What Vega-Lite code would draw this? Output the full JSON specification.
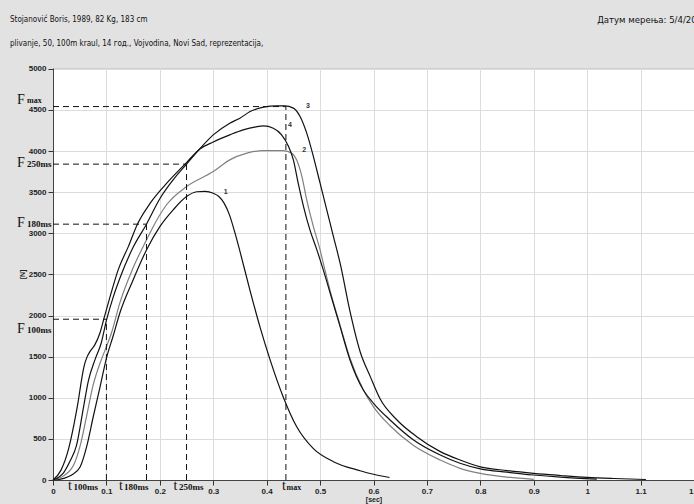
{
"$schema": "https://vega.github.io/schema/vega-lite/v6.json",
"autosize": {"type": "none"},
"width": 641,
"height": 412,
"padding": {"left": 53, "top": 68, "right": 0, "bottom": 24},
"background": "#e2e2e2",
"title": {
  "text": "Stojanović Boris, 1989, 82 Kg, 183 cm",
  "subtitle": "plivanje, 50, 100m kraul, 14 год., Vojvodina, Novi Sad, reprezentacija,",
  "anchor": "start",
  "frame": "group",
  "dx": -43,
  "offset": -33,
  "font": "Liberation Sans Narrow, DejaVu Sans Condensed, sans-serif",
  "fontSize": 8,
  "fontWeight": "normal",
  "color": "#111",
  "subtitleFont": "Liberation Sans Narrow, DejaVu Sans Condensed, sans-serif",
  "subtitleFontSize": 8,
  "subtitleColor": "#111",
  "subtitlePadding": 16
},
"config": {
  "view": {"fill": "white", "stroke": "#cfcfcf"},
  "axis": {
    "labelFont": "Liberation Sans, Arial, sans-serif",
    "labelFontSize": 8,
    "labelFontWeight": "bold",
    "labelColor": "#222",
    "tickColor": "#333",
    "domainColor": "#444",
    "tickSize": 5,
    "gridColor": "#dcdcdc",
    "gridWidth": 1,
    "titleFont": "Liberation Sans, Arial, sans-serif",
    "titleFontSize": 7,
    "titleFontWeight": "bold",
    "titleColor": "#222"
  }
},
"datasets": {
  "curves": [
    {"c":"1","t":0,"F":0},{"c":"1","t":0.02,"F":20},{"c":"1","t":0.035,"F":60},{"c":"1","t":0.051,"F":162},{"c":"1","t":0.063,"F":405},{"c":"1","t":0.075,"F":760},{"c":"1","t":0.088,"F":1130},{"c":"1","t":0.1,"F":1480},{"c":"1","t":0.113,"F":1760},{"c":"1","t":0.125,"F":2028},{"c":"1","t":0.15,"F":2433},{"c":"1","t":0.175,"F":2798},{"c":"1","t":0.2,"F":3081},{"c":"1","t":0.225,"F":3285},{"c":"1","t":0.25,"F":3446},{"c":"1","t":0.269,"F":3505},{"c":"1","t":0.285,"F":3510},{"c":"1","t":0.3,"F":3487},{"c":"1","t":0.31,"F":3450},{"c":"1","t":0.32,"F":3370},{"c":"1","t":0.33,"F":3230},{"c":"1","t":0.34,"F":3020},{"c":"1","t":0.35,"F":2780},{"c":"1","t":0.369,"F":2300},{"c":"1","t":0.388,"F":1850},{"c":"1","t":0.406,"F":1470},{"c":"1","t":0.431,"F":1010},{"c":"1","t":0.456,"F":650},{"c":"1","t":0.487,"F":385},{"c":"1","t":0.525,"F":223},{"c":"1","t":0.575,"F":113},{"c":"1","t":0.6,"F":70},{"c":"1","t":0.63,"F":30},
    {"c":"2","t":0,"F":0},{"c":"2","t":0.02,"F":50},{"c":"2","t":0.04,"F":200},{"c":"2","t":0.051,"F":420},{"c":"2","t":0.063,"F":780},{"c":"2","t":0.075,"F":1150},{"c":"2","t":0.088,"F":1420},{"c":"2","t":0.1,"F":1620},{"c":"2","t":0.11,"F":1800},{"c":"2","t":0.125,"F":2150},{"c":"2","t":0.15,"F":2580},{"c":"2","t":0.175,"F":2920},{"c":"2","t":0.19,"F":3111},{"c":"2","t":0.213,"F":3350},{"c":"2","t":0.25,"F":3568},{"c":"2","t":0.3,"F":3750},{"c":"2","t":0.331,"F":3893},{"c":"2","t":0.363,"F":3974},{"c":"2","t":0.394,"F":4006},{"c":"2","t":0.431,"F":4006},{"c":"2","t":0.447,"F":3974},{"c":"2","t":0.456,"F":3893},{"c":"2","t":0.466,"F":3690},{"c":"2","t":0.475,"F":3406},{"c":"2","t":0.4875,"F":3081},{"c":"2","t":0.5,"F":2798},{"c":"2","t":0.509,"F":2555},{"c":"2","t":0.52,"F":2271},{"c":"2","t":0.5375,"F":1880},{"c":"2","t":0.556,"F":1480},{"c":"2","t":0.581,"F":1095},{"c":"2","t":0.6,"F":890},{"c":"2","t":0.631,"F":660},{"c":"2","t":0.675,"F":420},{"c":"2","t":0.725,"F":243},{"c":"2","t":0.762,"F":142},{"c":"2","t":0.8,"F":81},{"c":"2","t":0.85,"F":35},{"c":"2","t":0.9,"F":8},
    {"c":"3","t":0,"F":0},{"c":"3","t":0.02,"F":90},{"c":"3","t":0.032,"F":230},{"c":"3","t":0.044,"F":420},{"c":"3","t":0.057,"F":880},{"c":"3","t":0.066,"F":1200},{"c":"3","t":0.079,"F":1470},{"c":"3","t":0.09,"F":1660},{"c":"3","t":0.1,"F":1940},{"c":"3","t":0.113,"F":2230},{"c":"3","t":0.125,"F":2450},{"c":"3","t":0.15,"F":2830},{"c":"3","t":0.175,"F":3111},{"c":"3","t":0.2,"F":3420},{"c":"3","t":0.225,"F":3650},{"c":"3","t":0.25,"F":3841},{"c":"3","t":0.275,"F":4030},{"c":"3","t":0.3,"F":4197},{"c":"3","t":0.331,"F":4339},{"c":"3","t":0.35,"F":4400},{"c":"3","t":0.369,"F":4480},{"c":"3","t":0.394,"F":4534},{"c":"3","t":0.419,"F":4550},{"c":"3","t":0.434,"F":4550},{"c":"3","t":0.45,"F":4522},{"c":"3","t":0.4625,"F":4420},{"c":"3","t":0.475,"F":4218},{"c":"3","t":0.4875,"F":3933},{"c":"3","t":0.5,"F":3609},{"c":"3","t":0.5125,"F":3285},{"c":"3","t":0.525,"F":2960},{"c":"3","t":0.5375,"F":2636},{"c":"3","t":0.556,"F":2050},{"c":"3","t":0.575,"F":1560},{"c":"3","t":0.594,"F":1257},{"c":"3","t":0.612,"F":990},{"c":"3","t":0.644,"F":730},{"c":"3","t":0.681,"F":527},{"c":"3","t":0.725,"F":345},{"c":"3","t":0.762,"F":243},{"c":"3","t":0.8,"F":160},{"c":"3","t":0.85,"F":115},{"c":"3","t":0.9,"F":81},{"c":"3","t":0.95,"F":55},{"c":"3","t":1.0,"F":32},{"c":"3","t":1.05,"F":18},{"c":"3","t":1.11,"F":6},
    {"c":"4","t":0,"F":0},{"c":"4","t":0.015,"F":120},{"c":"4","t":0.03,"F":400},{"c":"4","t":0.04,"F":700},{"c":"4","t":0.047,"F":950},{"c":"4","t":0.053,"F":1200},{"c":"4","t":0.058,"F":1380},{"c":"4","t":0.064,"F":1500},{"c":"4","t":0.07,"F":1570},{"c":"4","t":0.078,"F":1640},{"c":"4","t":0.088,"F":1790},{"c":"4","t":0.095,"F":1955},{"c":"4","t":0.11,"F":2300},{"c":"4","t":0.122,"F":2555},{"c":"4","t":0.141,"F":2838},{"c":"4","t":0.158,"F":3111},{"c":"4","t":0.182,"F":3366},{"c":"4","t":0.213,"F":3609},{"c":"4","t":0.25,"F":3860},{"c":"4","t":0.275,"F":4025},{"c":"4","t":0.3,"F":4110},{"c":"4","t":0.331,"F":4197},{"c":"4","t":0.356,"F":4258},{"c":"4","t":0.38,"F":4295},{"c":"4","t":0.394,"F":4306},{"c":"4","t":0.4125,"F":4278},{"c":"4","t":0.428,"F":4197},{"c":"4","t":0.441,"F":4055},{"c":"4","t":0.45,"F":3893},{"c":"4","t":0.459,"F":3609},{"c":"4","t":0.469,"F":3325},{"c":"4","t":0.481,"F":3041},{"c":"4","t":0.494,"F":2798},{"c":"4","t":0.506,"F":2555},{"c":"4","t":0.519,"F":2271},{"c":"4","t":0.5375,"F":1865},{"c":"4","t":0.556,"F":1460},{"c":"4","t":0.581,"F":1095},{"c":"4","t":0.6,"F":933},{"c":"4","t":0.631,"F":730},{"c":"4","t":0.675,"F":487},{"c":"4","t":0.725,"F":304},{"c":"4","t":0.762,"F":203},{"c":"4","t":0.8,"F":135},{"c":"4","t":0.85,"F":95},{"c":"4","t":0.9,"F":61},{"c":"4","t":0.95,"F":35},{"c":"4","t":1.018,"F":10}
  ],
  "refs": [
    {"t":0.1,"F":1955,"base":0},{"t":0.175,"F":3111,"base":0},{"t":0.25,"F":3841,"base":0},{"t":0.436,"F":4541,"base":0}
  ],
  "notes": [
    {"kind":"big","x":-0.0674,"y":4575,"text":"F"},
    {"kind":"small","x":-0.0487,"y":4580,"text":"max"},
    {"kind":"big","x":-0.0674,"y":3811,"text":"F"},
    {"kind":"sub","x":-0.0487,"y":3811,"text":"250ms"},
    {"kind":"big","x":-0.0674,"y":3081,"text":"F"},
    {"kind":"sub","x":-0.0487,"y":3081,"text":"180ms"},
    {"kind":"big","x":-0.0674,"y":1788,"text":"F"},
    {"kind":"sub","x":-0.0487,"y":1788,"text":"100ms"},
    {"kind":"big","x":0.0281,"y":-122,"text":"t"},
    {"kind":"sub","x":0.0384,"y":-122,"text":"100ms"},
    {"kind":"big","x":0.1236,"y":-122,"text":"t"},
    {"kind":"sub","x":0.133,"y":-122,"text":"180ms"},
    {"kind":"big","x":0.2257,"y":-122,"text":"t"},
    {"kind":"sub","x":0.236,"y":-122,"text":"250ms"},
    {"kind":"big","x":0.4288,"y":-122,"text":"t"},
    {"kind":"small","x":0.4373,"y":-122,"text":"max"},
    {"kind":"num","x":0.3234,"y":3507,"text":"1"},
    {"kind":"num","x":0.4705,"y":4008,"text":"2"},
    {"kind":"num","x":0.4775,"y":4550,"text":"3"},
    {"kind":"num","x":0.4438,"y":4312,"text":"4"},
    {"kind":"head","x":1.0187,"y":5560,"text":"Датум мерења: 5/4/2012"}
  ]
},
"layer": [
  {
    "data": {"name": "curves"},
    "mark": {"type": "line", "strokeWidth": 1.2, "interpolate": "monotone"},
    "encoding": {
      "x": {"field": "t", "type": "quantitative",
            "scale": {"domain": [0, 1.2], "nice": false},
            "axis": {"values": [0,0.1,0.2,0.3,0.4,0.5,0.6,0.7,0.8,0.9,1,1.1,1.2], "format": "~g", "title": "[sec]", "titlePadding": 0, "labelPadding": 2, "labelFlush": false}},
      "y": {"field": "F", "type": "quantitative",
            "scale": {"domain": [0, 5010], "nice": false},
            "axis": {"values": [0,500,1000,1500,2000,2500,3000,3500,4000,4500,5000], "format": "d", "title": "[N]", "titlePadding": 3, "labelPadding": 2}},
      "color": {"field": "c", "type": "nominal", "legend": null,
                "scale": {"domain": ["1","2","3","4"], "range": ["#111111","#808080","#111111","#111111"]}},
      "order": {"field": "t", "type": "quantitative"}
    }
  },
  {
    "data": {"name": "refs"},
    "mark": {"type": "rule", "strokeDash": [6, 4], "strokeWidth": 1, "color": "#111"},
    "encoding": {
      "x": {"field": "base", "type": "quantitative"},
      "x2": {"field": "t"},
      "y": {"field": "F", "type": "quantitative"}
    }
  },
  {
    "data": {"name": "refs"},
    "mark": {"type": "rule", "strokeDash": [6, 4], "strokeWidth": 1, "color": "#111"},
    "encoding": {
      "x": {"field": "t", "type": "quantitative"},
      "y": {"field": "base", "type": "quantitative"},
      "y2": {"field": "F"}
    }
  },
  {
    "data": {"name": "notes"},
    "transform": [{"filter": "datum.kind === 'big'"}],
    "mark": {"type": "text", "align": "left", "baseline": "alphabetic", "font": "Liberation Serif, Times New Roman, serif", "fontSize": 14, "color": "#111"},
    "encoding": {
      "x": {"field": "x", "type": "quantitative"},
      "y": {"field": "y", "type": "quantitative"},
      "text": {"field": "text"}
    }
  },
  {
    "data": {"name": "notes"},
    "transform": [{"filter": "datum.kind === 'sub'"}],
    "mark": {"type": "text", "align": "left", "baseline": "alphabetic", "font": "Liberation Serif, Times New Roman, serif", "fontSize": 9, "fontWeight": "bold", "color": "#111"},
    "encoding": {
      "x": {"field": "x", "type": "quantitative"},
      "y": {"field": "y", "type": "quantitative"},
      "text": {"field": "text"}
    }
  },
  {
    "data": {"name": "notes"},
    "transform": [{"filter": "datum.kind === 'small'"}],
    "mark": {"type": "text", "align": "left", "baseline": "alphabetic", "font": "Liberation Serif, Times New Roman, serif", "fontSize": 8, "fontWeight": "bold", "color": "#111"},
    "encoding": {
      "x": {"field": "x", "type": "quantitative"},
      "y": {"field": "y", "type": "quantitative"},
      "text": {"field": "text"}
    }
  },
  {
    "data": {"name": "notes"},
    "transform": [{"filter": "datum.kind === 'num'"}],
    "mark": {"type": "text", "align": "center", "baseline": "middle", "font": "Liberation Sans, Arial, sans-serif", "fontSize": 7, "fontWeight": "bold", "color": "#333"},
    "encoding": {
      "x": {"field": "x", "type": "quantitative"},
      "y": {"field": "y", "type": "quantitative"},
      "text": {"field": "text"}
    }
  },
  {
    "data": {"name": "notes"},
    "transform": [{"filter": "datum.kind === 'head'"}],
    "mark": {"type": "text", "align": "left", "baseline": "alphabetic", "font": "Liberation Sans Narrow, DejaVu Sans Condensed, sans-serif", "fontSize": 9.5, "color": "#111"},
    "encoding": {
      "x": {"field": "x", "type": "quantitative"},
      "y": {"field": "y", "type": "quantitative"},
      "text": {"field": "text"}
    }
  }
]
}
